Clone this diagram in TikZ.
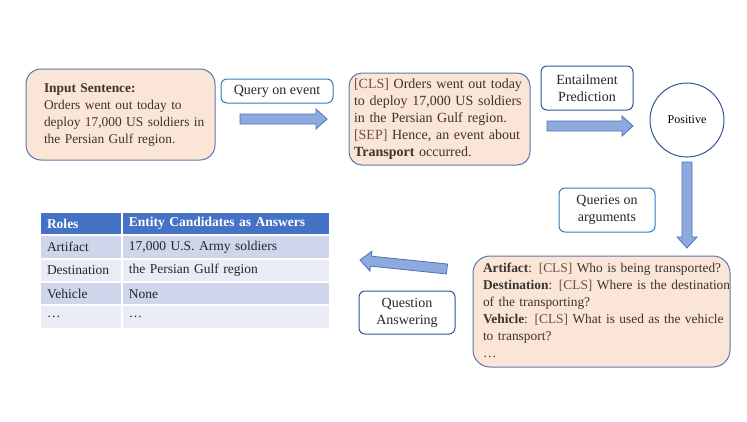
\documentclass[tikz,border=0pt]{standalone}
\usepackage{fontspec}
\setmainfont{Liberation Serif}
\usepackage{tikz}
\usetikzlibrary{positioning, calc}
\definecolor{peach}{HTML}{FBE5D6}
\definecolor{peachline}{HTML}{5A78AE}
\definecolor{lightline}{HTML}{2E7FC0}
\definecolor{darkline}{HTML}{2F5597}
\definecolor{arrfill}{HTML}{8EA9DB}
\definecolor{arrline}{HTML}{4A72C0}
\definecolor{headfill}{HTML}{4472C4}
\definecolor{rowdark}{HTML}{CFD5EA}
\definecolor{rowlight}{HTML}{E9EBF5}
\definecolor{bodytext}{HTML}{3B3430}
\definecolor{tagtext}{HTML}{62524A}
\definecolor{celltext}{HTML}{262626}

\newcommand{\tok}[1]{\textcolor{tagtext}{[#1]}}
% block arrow between two named coordinates
\newcommand{\blockarrow}[2]{%
  \coordinate (bh) at ($(#2)!11pt!(#1)$);
  \filldraw[blk] ($(#1)!5pt!90:(#2)$) -- ($(bh)!5pt!90:(#2)$) -- ($(bh)!10pt!90:(#2)$)
    -- (#2) -- ($(bh)!10pt!-90:(#2)$) -- ($(bh)!5pt!-90:(#2)$) -- ($(#1)!5pt!-90:(#2)$) -- cycle;}

\begin{document}
\begin{tikzpicture}[x=1pt, y=-1pt,
  txt/.style={font=\fontsize{14}{17}\selectfont},
  small/.style={font=\fontsize{13.4}{17}\selectfont},
  sent/.style={txt, draw=peachline, fill=peach, line width=1pt, rounded corners=15pt, align=left, text=bodytext, inner ysep=0pt},
  lbl/.style={txt, draw=lightline, fill=white, line width=1pt, rounded corners=6pt, align=center, text=black!85, inner sep=1pt},
  lbldark/.style={lbl, draw=darkline},
  blk/.style={fill=arrfill, draw=arrline, line width=0.8pt, line join=miter},
  cell/.style={rectangle, minimum height=21.5pt, inner xsep=6pt, inner ysep=2pt, align=left, font=\fontsize{13.5}{16}\selectfont, text=celltext},
  c1/.style={cell, text width=68pt},
  c2/.style={cell, text width=194pt},
  hd/.style={fill=headfill, text=white, font=\fontsize{13.5}{16}\selectfont\bfseries},
]
\useasboundingbox (0,0) rectangle (747,421);

% top row
\node[sent, small, minimum width=189, minimum height=91, text width=153, inner xsep=18] (inp) at (120.5,114.5)
  {\begin{tabular}{@{}l@{}}
   \textbf{Input Sentence:}\\
   Orders went out today to\\
   deploy 17,000 US soldiers in\\
   the Persian Gulf region.
   \end{tabular}};
\node[lbl, minimum width=112, minimum height=24] (qev) at (277,91) {Query on event};
\node[sent, minimum width=181, minimum height=92, text width=171, inner xsep=5, rounded corners=13pt] (cls) at (439.5,119)
  {\tok{CLS} Orders went out today\\to deploy 17,000 US soldiers\\in the Persian Gulf region.\\\tok{SEP} Hence, an event about\\\textbf{Transport} occurred.};
\node[lbldark, minimum width=92, minimum height=44] (ent) at (587,88) {Entailment\\Prediction};
\node[circle, draw=darkline, line width=1pt, minimum size=74, font=\fontsize{12}{14}\selectfont] (pos) at (687,120) {Positive};

% right column
\node[lbl, minimum width=96, minimum height=44] (qarg) at (607,210) {Queries on\\arguments};
\node[sent, small, minimum width=257, minimum height=111, text width=237, inner xsep=10, rounded corners=17pt] (args) at (601.5,311.5)
  {\begin{tabular}{@{}l@{}}
   \textbf{Artifact}: \tok{CLS} Who is being transported?\\
   \textbf{Destination}: \tok{CLS} Where is the destination\\
   of the transporting?\\
   \textbf{Vehicle}: \tok{CLS} What is used as the vehicle\\
   to transport?\\
   …
   \end{tabular}};
\node[lbldark, minimum width=96, minimum height=43] (qa) at (407,312.5) {Question\\Answering};

% answer table
\node[c1, hd] (h1) at (81,223.5) {Roles};
\node[c2, hd, right=1.5pt of h1] (h2) {Entity Candidates as Answers};
\node[c1, fill=rowdark, below=1.5pt of h1] (r1a) {Artifact};
\node[c2, fill=rowdark, right=1.5pt of r1a] (r1b) {17,000 U.S. Army soldiers};
\node[c1, fill=rowlight, below=1.5pt of r1a] (r2a) {Destination};
\node[c2, fill=rowlight, right=1.5pt of r2a] (r2b) {the Persian Gulf region};
\node[c1, fill=rowdark, below=1.5pt of r2a] (r3a) {Vehicle};
\node[c2, fill=rowdark, right=1.5pt of r3a] (r3b) {None};
\node[c1, fill=rowlight, below=1.5pt of r3a] (r4a) {…};
\node[c2, fill=rowlight, right=1.5pt of r4a] (r4b) {…};

% block arrows
\coordinate (a1s) at (240,119);
\coordinate (a1e) at (327,119);
\coordinate (a2s) at (547,126);
\coordinate (a2e) at (633,126);
\coordinate (a3s) at (687,162);
\coordinate (a3e) at (687,248);
\coordinate (a4s) at (447,269);
\coordinate (a4e) at (360,260);
\blockarrow{a1s}{a1e}
\blockarrow{a2s}{a2e}
\blockarrow{a3s}{a3e}
\blockarrow{a4s}{a4e}

\end{tikzpicture}
\end{document}
